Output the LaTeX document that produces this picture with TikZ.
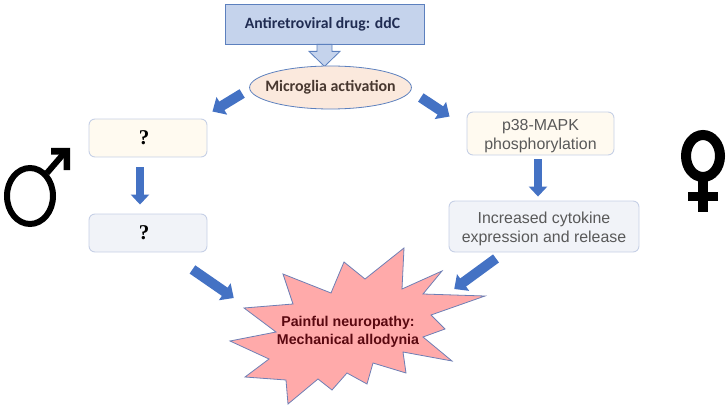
\documentclass[tikz,border=0pt]{standalone}
\usepackage{fontspec}
\setmainfont{Liberation Sans}
\newfontfamily\calibrifont{Carlito}
\newfontfamily\serifmark{Liberation Serif}
\usepackage{tikz}
\usetikzlibrary{shapes, arrows.meta}
\usepackage{xcolor}
\definecolor{drugblue}{RGB}{197, 211, 236}
\definecolor{edgeblue}{RGB}{92, 128, 190}
\definecolor{softedge}{RGB}{198, 208, 230}
\definecolor{arrowblue}{RGB}{68, 114, 196}
\definecolor{microfill}{RGB}{251, 233, 221}
\definecolor{creamfill}{RGB}{255, 250, 240}
\definecolor{greyfill}{RGB}{241, 243, 248}
\definecolor{painfill}{RGB}{255, 170, 170}
\definecolor{painedge}{RGB}{110, 127, 181}
\definecolor{navytext}{RGB}{32, 44, 82}
\definecolor{browntext}{RGB}{72, 56, 48}
\definecolor{greytext}{RGB}{89, 89, 89}
\definecolor{paintext}{RGB}{90, 8, 16}

\begin{document}
\begin{tikzpicture}[
  x=1pt, y=-1pt,
  stepbox/.style={rectangle, draw=softedge, line width=0.9pt, rounded corners=6pt, inner sep=0pt, align=center, font=\fontsize{15.9}{19}\selectfont, text=greytext},
  markbox/.style={stepbox, minimum width=118pt, minimum height=38pt, font=\serifmark\bfseries\fontsize{21}{24}\selectfont, text=black},
  fatarrow/.style={draw=arrowblue, line width=8.7pt, -{Triangle[length=10pt, width=18pt]}},
  fatslant/.style={draw=arrowblue, line width=10pt, -{Triangle[length=11pt, width=20pt]}},
  symbolline/.style={draw=black, line width=6pt},
]
  \useasboundingbox (0,0) rectangle (728,409);

  \node[rectangle, draw=edgeblue, line width=0.8pt, fill=drugblue, minimum width=199pt, minimum height=40pt, inner sep=0pt, font=\calibrifont\bfseries\fontsize{15.7}{18}\selectfont, text=navytext] (drug) at (324.5,24) {Antiretroviral drug: ddC\kern4pt};
  \draw[draw=edgeblue, line width=0.8pt, fill=drugblue] ([xshift=-7.5pt]drug.south) -- ++(0,7) -- ++(-8,0) -- ++(15.5,15) -- ++(15.5,-15) -- ++(-8,0) -- ++(0,-7) -- cycle;
  \node[ellipse, draw=edgeblue, line width=0.8pt, fill=microfill, minimum width=161pt, minimum height=43pt, inner xsep=-8pt, inner ysep=0pt, font=\calibrifont\bfseries\fontsize{15.9}{18}\selectfont, text=browntext] (microglia) at (330.5,87.5) {Microglia activation};

  \node[markbox, fill=creamfill] (maleone) at (148,138) {?\kern8pt};
  \node[markbox, fill=greyfill] (maletwo) at (148,233) {?\kern8pt};
  \node[stepbox, fill=creamfill, minimum width=147pt, minimum height=43pt] (p38) at (540.5,133.5) {\rule{0pt}{16pt}p38-MAPK\\phosphorylation};
  \node[stepbox, fill=greyfill, minimum width=190pt, minimum height=51pt] (cytokine) at (544,226.5) {\rule{0pt}{15.5pt}Increased cytokine\\expression and release};

  \draw[draw=painedge, line width=0.8pt, fill=painfill]
    (404,248) -- (365,279) -- (344,262) -- (331,293) -- (283,274) -- (293,304) -- (244,308)
    -- (276,332) -- (230,341) -- (269,359) -- (245,377) -- (286,380) -- (288,404) -- (318,379)
    -- (332,390) -- (347,373) -- (367,384) -- (373,363) -- (406,373) -- (403,352) -- (452,361)
    -- (423,337) -- (445,329) -- (431,315) -- (485,296) -- (423,294) -- (442,271) -- (402,289) -- cycle;
  \node[font=\bfseries\fontsize{14.2}{18}\selectfont, text=paintext, align=center, inner sep=0pt] (pain) at (348,332) {Painful neuropathy:\\Mechanical allodynia};

  \draw[fatslant] ([shift={(-7,6)}]microglia.west) -- ([shift={(5,-7)}]maleone.north east);
  \draw[fatslant] ([shift={(9,10)}]microglia.east) -- ([shift={(-17,5)}]p38.north west);
  \draw[fatarrow] ([shift={(-8,10)}]maleone.south) -- ([shift={(-8,-9)}]maletwo.north);
  \draw[fatarrow] ([shift={(-2.5,4)}]p38.south) -- ([shift={(-6,-4)}]cytokine.north);
  \draw[fatslant] ([shift={(-15,17)}]maletwo.south east) -- ([shift={(-43,-34)}]pain.west);
  \draw[fatslant] ([shift={(-48,6)}]cytokine.south) -- ([shift={(35,-43)}]pain.east);

  \draw[symbolline] (30,196) ellipse [x radius=23pt, y radius=28pt];
  \draw[symbolline] (47,173) -- (66,151);
  \fill[black] (51,148) -- (70,148) -- (70,170) -- (63.5,170) -- (63.5,154.5) -- (51,154.5) -- cycle;

  \draw[draw=black, line width=10pt] (703,156) ellipse [x radius=17pt, y radius=21pt];
  \fill[black] (698,181) rectangle (708,212);
  \fill[black] (688,192) rectangle (718,201);
\end{tikzpicture}
\end{document}
